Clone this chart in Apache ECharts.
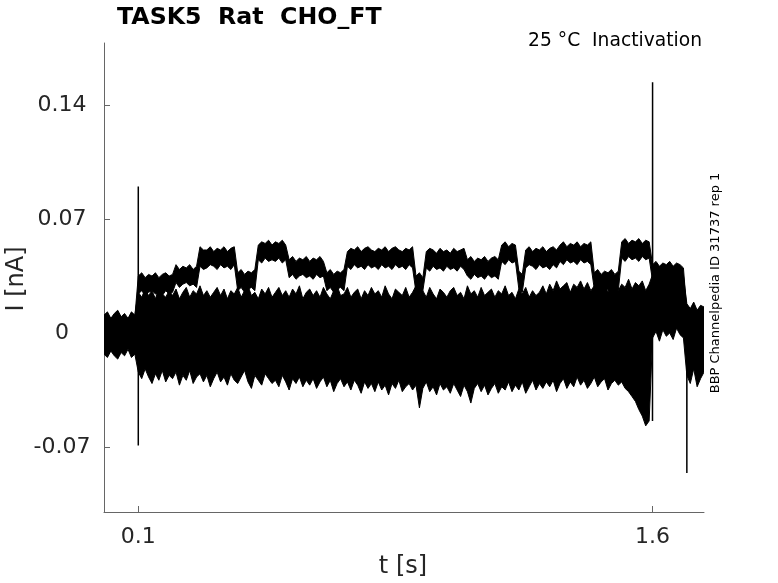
<!DOCTYPE html>
<html>
<head>
<meta charset="utf-8">
<title>TASK5 Rat CHO_FT</title>
<script src="https://cdn.jsdelivr.net/npm/echarts@6/dist/echarts.min.js"></script>
<style>
html, body { margin: 0; padding: 0; background: #fff; }
#chart { width: 778px; height: 583px; }
</style>
</head>
<body>
<div id="chart"></div>
<script>
// sample interval of the envelopes [s], first sample at t = 0
var dt = 0.01;

// upper / lower edge of the dense bundle of sweeps [pA]
var coreHi = [
  11,13,9,12,14,10,12,9,13,11,
  25,22,27,23,26,21,28,24,22,26,
  23,27,21,25,28,22,26,24,29,23,
  26,22,25,28,23,27,21,26,24,28,
  22,26,29,23,25,21,27,24,28,22,
  25,28,23,26,22,27,24,29,21,25,
  27,23,26,22,28,24,21,26,29,23,
  24,28,22,25,27,21,26,23,28,24,
  26,22,29,24,21,27,25,23,28,22,
  25,29,23,26,22,28,24,21,27,25,
  22,26,28,23,25,21,29,24,26,22,
  28,23,25,27,22,26,24,29,23,25,
  21,27,24,28,22,26,23,25,29,24,
  30,26,32,27,29,31,25,30,28,32,
  27,31,26,29,33,28,30,25,32,29,
  26,30,28,33,27,31,29,32,26,30,
  36,33,38,34,37,32,36,39,33,35,
  18,15,19,14,17,16
];
var coreLo = [
  -13,-15,-11,-14,-16,-12,-14,-10,-15,-13,
  -24,-28,-22,-27,-31,-25,-29,-23,-30,-26,
  -28,-24,-32,-26,-29,-23,-31,-27,-25,-30,
  -26,-33,-28,-24,-30,-27,-32,-25,-29,-31,
  -27,-23,-30,-34,-26,-29,-32,-25,-28,-31,
  -29,-33,-26,-30,-35,-28,-31,-27,-33,-29,
  -32,-28,-34,-30,-27,-33,-29,-36,-31,-28,
  -33,-30,-35,-29,-32,-37,-30,-34,-31,-36,
  -30,-35,-32,-38,-31,-34,-29,-36,-33,-31,
  -35,-32,-46,-34,-30,-36,-33,-38,-31,-35,
  -33,-37,-31,-35,-39,-32,-36,-43,-34,-31,
  -36,-32,-38,-34,-31,-37,-33,-35,-30,-36,
  -32,-35,-30,-37,-33,-29,-35,-31,-34,-30,
  -33,-29,-36,-31,-28,-34,-30,-33,-27,-32,
  -29,-34,-31,-27,-33,-30,-28,-35,-31,-29,
  -32,-30,-34,-36,-39,-42,-47,-51,-57,-54,
  -3,1,-5,2,-2,0,-4,3,-1,-3,
  -26,-31,-22,-33,-28,-24
];

// upper / lower edge of the top sweep with the channel openings [pA]
var topHi = [
  9,12,8,11,13,9,10,8,12,10,
  35,37,34,36,35,37,34,36,37,35,
  36,42,39,41,40,42,39,41,53,51,
  51,53,50,52,51,53,50,52,53,37,
  39,36,38,37,39,54,56,55,57,54,
  56,55,57,54,45,47,44,46,45,47,
  44,46,45,47,44,37,39,36,38,37,
  39,50,52,51,53,50,52,53,51,50,
  52,51,53,50,52,53,51,50,52,51,
  53,35,37,34,50,52,51,49,52,50,
  51,49,52,50,51,52,45,47,44,46,
  45,47,44,46,47,45,54,56,53,55,
  54,38,36,51,53,50,52,51,53,50,
  52,53,51,54,56,53,55,54,56,53,
  55,54,56,37,39,36,38,37,39,36,
  38,56,58,55,57,56,58,55,57,56,
  42,44,41,43,42,44,41,43,42,40,
  13,15,12,14,13,11
];
var topLo = [
  -10,-12,-8,-11,-13,-9,-12,-7,-11,-10,
  24,26,23,25,26,24,25,23,26,24,
  25,31,28,30,31,29,30,28,41,39,
  40,42,41,39,42,40,41,39,42,26,
  28,25,27,28,26,45,43,46,44,45,
  44,46,43,45,34,36,33,35,36,34,
  35,33,36,34,35,26,28,25,27,28,
  26,41,39,42,40,41,39,42,40,41,
  39,42,40,41,39,42,40,41,39,42,
  40,25,23,26,40,38,41,39,40,38,
  41,39,40,38,41,39,35,33,36,34,
  35,33,36,34,35,33,44,42,45,43,
  44,27,25,40,42,41,39,42,40,41,
  39,42,40,44,42,45,43,44,42,45,
  43,44,42,27,25,28,26,27,25,28,
  26,46,44,47,45,46,44,47,45,46,
  32,30,33,31,32,30,33,31,32,30,
  3,1,4,2,3,5
];

// capacitive transients at the voltage steps [s] / [nA]
var stepOnT = [0.0998, 0.1, 0.1, 0.1002];
var stepOnV = [0.003, 0.090, -0.069, 0.025];
var testT = [1.5998, 1.6, 1.6002];
var testV = [-0.054, 0.154, 0.022];
var stepOffT = [1.6998, 1.7, 1.7002];
var stepOffV = [0.008, -0.086, -0.012];

var xTicks = [0.1, 1.6];
var yTicks = [-0.07, 0, 0.07, 0.14];

function pairUp(ts, vs) {
  return ts.map(function (t, i) { return [t, vs[i]]; });
}
// filled band between an upper and a lower edge, drawn as one polygon
function bandSeries(hi, lo) {
  var data = hi.map(function (v, i) { return [i * dt, v / 1000, lo[i] / 1000]; });
  return {
    type: 'custom', silent: true, animation: false, clip: true,
    encode: { x: 0, y: [1, 2] },
    data: data,
    renderItem: function (params, api) {
      if (params.dataIndex !== 0) return null;
      var pts = [];
      data.forEach(function (d) { pts.push(api.coord([d[0], d[1]])); });
      for (var i = data.length - 1; i >= 0; i--) pts.push(api.coord([data[i][0], data[i][2]]));
      return {
        type: 'polygon', shape: { points: pts },
        style: { fill: '#000', stroke: '#000', lineWidth: 1, lineJoin: 'round' }
      };
    }
  };
}

var font = '"DejaVu Sans", "Liberation Sans", sans-serif';
var series = [bandSeries(coreHi, coreLo), bandSeries(topHi, topLo)];
[[stepOnT, stepOnV], [testT, testV], [stepOffT, stepOffV]].forEach(function (s) {
  series.push({
    type: 'line', data: pairUp(s[0], s[1]), showSymbol: false, silent: true,
    lineStyle: { color: '#000', width: 1.5 }, animation: false
  });
});

var myChart = echarts.init(document.getElementById('chart'));
var option = {
  backgroundColor: '#fff',
  animation: false,
  grid: { left: 104, right: 74, top: 43, bottom: 71 },
  xAxis: {
    type: 'value', min: 0, max: 1.75,
    axisLine: { onZero: false, lineStyle: { color: '#666', width: 1 } },
    axisTick: { inside: true, length: 6, customValues: xTicks, lineStyle: { color: '#666' } },
    axisLabel: { customValues: xTicks, margin: 14, color: '#262626', fontSize: 22, fontFamily: font },
    splitLine: { show: false }
  },
  yAxis: {
    type: 'value', min: -0.1099, max: 0.1781,
    axisLine: { show: true, onZero: false, lineStyle: { color: '#666', width: 1 } },
    axisTick: { show: true, inside: true, length: 6, customValues: yTicks, lineStyle: { color: '#666' } },
    axisLabel: {
      customValues: yTicks, margin: 42, align: 'center', color: '#262626', fontSize: 22, fontFamily: font,
      formatter: function (v) { return v === 0 ? '0' : String(v); }
    },
    splitLine: { show: false }
  },
  graphic: [
    { type: 'text', x: 117, y: 18, style: { text: 'TASK5  Rat  CHO_FT', font: 'bold 23.7px ' + font, fill: '#000', textAlign: 'left', textVerticalAlign: 'middle' } },
    { type: 'text', x: 702, y: 41, style: { text: '25 °C  Inactivation', font: '18.7px ' + font, fill: '#000', textAlign: 'right', textVerticalAlign: 'middle' } },
    { type: 'text', x: 716, y: 283, rotation: Math.PI / 2, style: { text: 'BBP Channelpedia ID 31737 rep 1', font: '13px ' + font, fill: '#000', textAlign: 'center', textVerticalAlign: 'middle' } },
    { type: 'text', x: 17, y: 279, rotation: Math.PI / 2, style: { text: 'I [nA]', font: '24px ' + font, fill: '#262626', textAlign: 'center', textVerticalAlign: 'middle' } },
    { type: 'text', x: 403, y: 567, style: { text: 't [s]', font: '24px ' + font, fill: '#262626', textAlign: 'center', textVerticalAlign: 'middle' } }
  ],
  series: series
};
myChart.setOption(option);
</script>
</body>
</html>
